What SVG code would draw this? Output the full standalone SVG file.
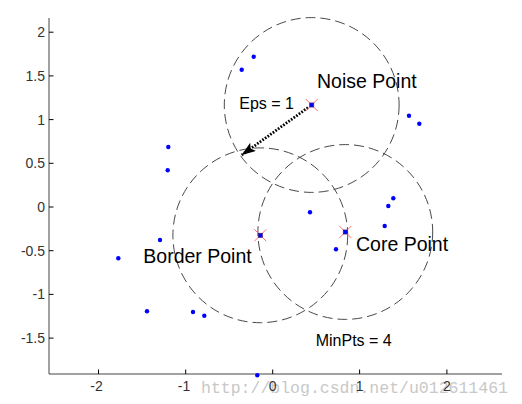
<svg xmlns="http://www.w3.org/2000/svg" width="522" height="404" viewBox="0 0 522 404">
<style>
.ax{stroke:#444;stroke-width:1;fill:none}
.tk{stroke:#000;stroke-width:1}
.tl{font-family:"Liberation Sans",Arial,sans-serif;font-size:14px;fill:#333}
.circ{fill:none;stroke:#333;stroke-width:0.9;stroke-dasharray:10 5}
.pt{fill:#0000ff}
.xm{stroke:#ff7070;stroke-width:1}
.sq{fill:#0000ff;stroke:#402080;stroke-width:0.8}
.lbl{font-family:"Liberation Sans",Arial,sans-serif;font-size:19.5px;fill:#000}
.sm{font-family:"Liberation Sans",Arial,sans-serif;font-size:16px;fill:#000}
.wm{font-family:"Liberation Mono","Courier New",monospace;font-size:16.5px;fill:#c8c8c8}
</style>
<defs>
<marker id="ah" viewBox="0 0 14 10" refX="14" refY="5" markerWidth="14" markerHeight="10" markerUnits="userSpaceOnUse" orient="auto"><path d="M0,0 L14,5 L0,10 L3,5 z" fill="#000"/></marker>
</defs>
<text class="wm" x="201" y="393">http://blog.csdn.net/u012611461</text>
<g id="axes">
<path class="ax" d="M49,18 V374 H502"/>
<g class="tk">
<path d="M49,32.2h4.5M49,75.9h4.5M49,119.6h4.5M49,163.3h4.5M49,207h4.5M49,250.7h4.5M49,294.4h4.5M49,338.1h4.5"/>
<path d="M98.5,374v-4.5M185.7,374v-4.5M272.7,374v-4.5M359.6,374v-4.5M446.9,374v-4.5"/>
</g>
<g class="tl" text-anchor="end">
<text x="45" y="37.2">2</text>
<text x="45" y="80.9">1.5</text>
<text x="45" y="124.6">1</text>
<text x="45" y="168.3">0.5</text>
<text x="45" y="212">0</text>
<text x="45" y="255.7">-0.5</text>
<text x="45" y="299.4">-1</text>
<text x="45" y="343.1">-1.5</text>
</g>
<g class="tl" text-anchor="middle">
<text x="96.5" y="391">-2</text>
<text x="184" y="391">-1</text>
<text x="272.7" y="391">0</text>
<text x="359.6" y="391">1</text>
<text x="446.9" y="391">2</text>
</g>
</g>
<g id="circles">
<circle id="noise-circle" class="circ" cx="311.7" cy="105" r="87.4"/>
<circle id="border-circle" class="circ" cx="260.3" cy="235.3" r="87.4"/>
<circle id="core-circle" class="circ" cx="345.3" cy="232" r="87.4"/>
</g>
<g id="points">
<circle class="pt" cx="253.7" cy="56.7" r="2.2"/>
<circle class="pt" cx="241.7" cy="69.7" r="2.2"/>
<circle class="pt" cx="168.3" cy="147" r="2.2"/>
<circle class="pt" cx="167.7" cy="170.3" r="2.2"/>
<circle class="pt" cx="409" cy="115.7" r="2.2"/>
<circle class="pt" cx="419.3" cy="123.7" r="2.2"/>
<circle class="pt" cx="393.3" cy="198.3" r="2.2"/>
<circle class="pt" cx="388.3" cy="206" r="2.2"/>
<circle class="pt" cx="384.7" cy="226" r="2.2"/>
<circle class="pt" cx="310" cy="212.3" r="2.2"/>
<circle class="pt" cx="336" cy="249.3" r="2.2"/>
<circle class="pt" cx="160" cy="240" r="2.2"/>
<circle class="pt" cx="118.3" cy="258.3" r="2.2"/>
<circle class="pt" cx="147" cy="311.3" r="2.2"/>
<circle class="pt" cx="193" cy="312" r="2.2"/>
<circle class="pt" cx="204.3" cy="315.7" r="2.2"/>
<circle class="pt" cx="257.3" cy="375.3" r="2.2"/>
</g>
<g id="connectors">
<path d="M308,107.6 L241.7,155" stroke="#000" stroke-width="2.8" stroke-dasharray="1.7 1.5" fill="none" marker-end="url(#ah)"/>
</g>
<g id="noise-point">
<path class="xm" d="M305.7,99l12,12M317.7,99l-12,12"/>
<rect class="sq" x="309.7" y="103" width="4" height="4"/>
</g>
<g id="border-point">
<path class="xm" d="M254.3,229.3l12,12M266.3,229.3l-12,12"/>
<rect class="sq" x="258.3" y="233.3" width="4" height="4"/>
</g>
<g id="core-point">
<path class="xm" d="M339.3,226l12,12M351.3,226l-12,12"/>
<rect class="sq" x="343.3" y="230" width="4" height="4"/>
</g>
<g id="labels">
<text class="lbl" x="317" y="88">Noise Point</text>
<text class="lbl" x="143.3" y="263.3">Border Point</text>
<text class="lbl" x="356" y="250.7">Core Point</text>
<text class="sm" x="239.3" y="109">Eps = 1</text>
<text class="sm" x="315.7" y="345.7">MinPts = 4</text>
</g>
</svg>
